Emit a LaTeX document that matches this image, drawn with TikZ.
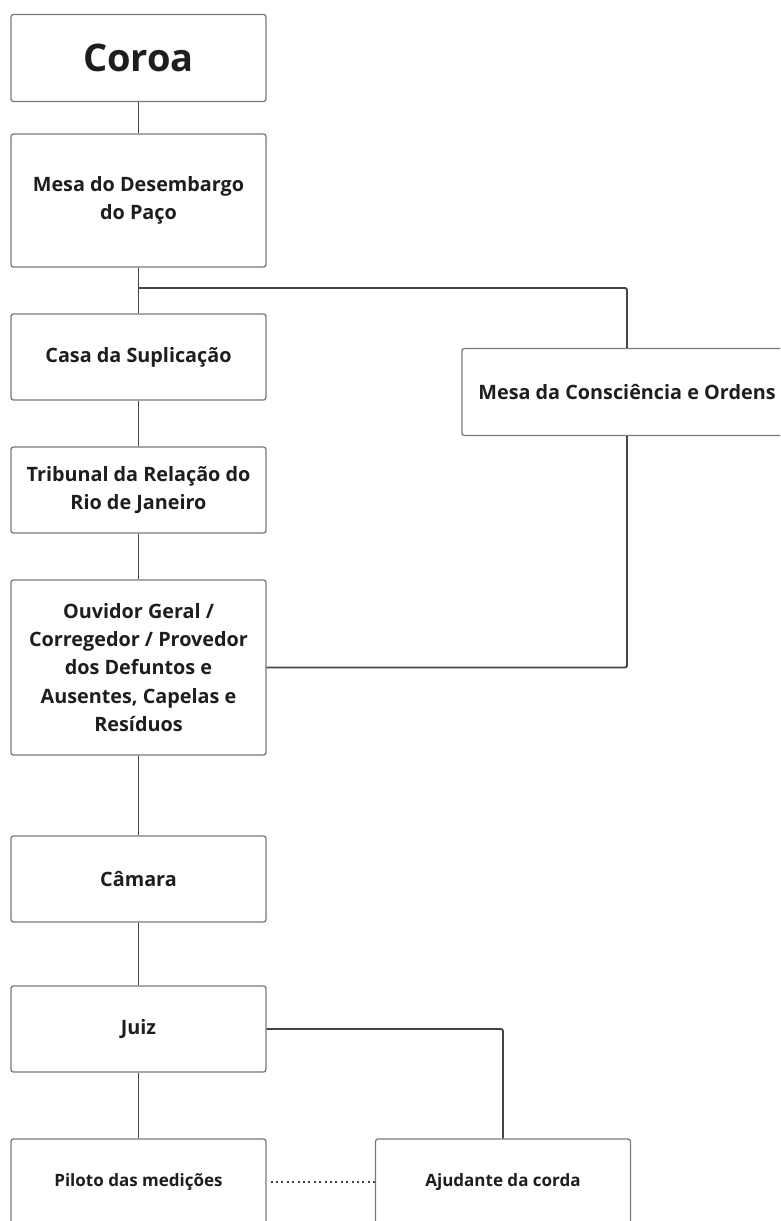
\documentclass[tikz,border=0pt]{standalone}
\usepackage{fontspec}
\setmainfont{Open Sans}
\definecolor{boxline}{HTML}{7A7A7A}
\definecolor{linkline}{HTML}{444444}
\definecolor{txt}{HTML}{1E1E1E}
\tikzset{
  orgbox/.style={draw=boxline, line width=1.3pt, rounded corners=2.5pt, fill=white,
    minimum width=255pt, minimum height=86pt, align=center, text=txt,
    font=\fontsize{19.8}{28.2}\selectfont\bfseries, inner sep=4pt},
  smallbox/.style={orgbox, font=\fontsize{17}{22}\selectfont\bfseries},
  link/.style={draw=linkline, line width=1.8pt, rounded corners=2pt}
}
\begin{document}
\begin{tikzpicture}[x=1pt,y=-1pt]
  \useasboundingbox (0,0) rectangle (780,1221);
  \clip (0,0) rectangle (780,1221);

  % links first, boxes on top
  \coordinate (split) at (138.5,288);

  \node[orgbox, minimum height=87pt, font=\fontsize{38}{44}\selectfont\bfseries] (coroa) at (138.5,58) {Coroa};
  \node[orgbox, minimum height=133pt] (desemb) at (138.5,200.5) {Mesa do Desembargo\\do Paço};
  \node[orgbox] (casa) at (138.5,357) {Casa da Suplicação};
  \node[orgbox, minimum width=330pt, minimum height=87pt] (consc) at (627,392) {Mesa da Consciência e Ordens};
  \node[orgbox] (tribunal) at (138.5,490) {Tribunal da Relação do\\Rio de Janeiro};
  \node[orgbox, minimum height=175pt] (ouvidor) at (138.5,667.5) {Ouvidor Geral /\\Corregedor / Provedor\\dos Defuntos e\\Ausentes, Capelas e\\Resíduos};
  \node[orgbox] (camara) at (138.5,879) {Câmara};
  \node[orgbox] (juiz) at (138.5,1029) {Juiz};
  \node[smallbox] (piloto) at (138.5,1182) {Piloto das medições};
  \node[smallbox] (ajudante) at (503,1182) {Ajudante da corda};

  \draw[link] (coroa) -- (desemb);
  \draw[link] (desemb) -- (casa);
  \draw[link] (split) -| (consc.north);
  \draw[link] (casa) -- (tribunal);
  \draw[link] (tribunal) -- (ouvidor);
  \draw[link] (consc.south) |- (ouvidor.east);
  \draw[link] (ouvidor) -- (camara);
  \draw[link] (camara) -- (juiz);
  \draw[link] (juiz) -- (piloto);
  \draw[link] (juiz.east) -| (ajudante.north);
  \draw[linkline, line width=2.4pt, dash pattern=on 2pt off 3.4pt, shorten <=4pt] (piloto) -- (ajudante);
\end{tikzpicture}
\end{document}
